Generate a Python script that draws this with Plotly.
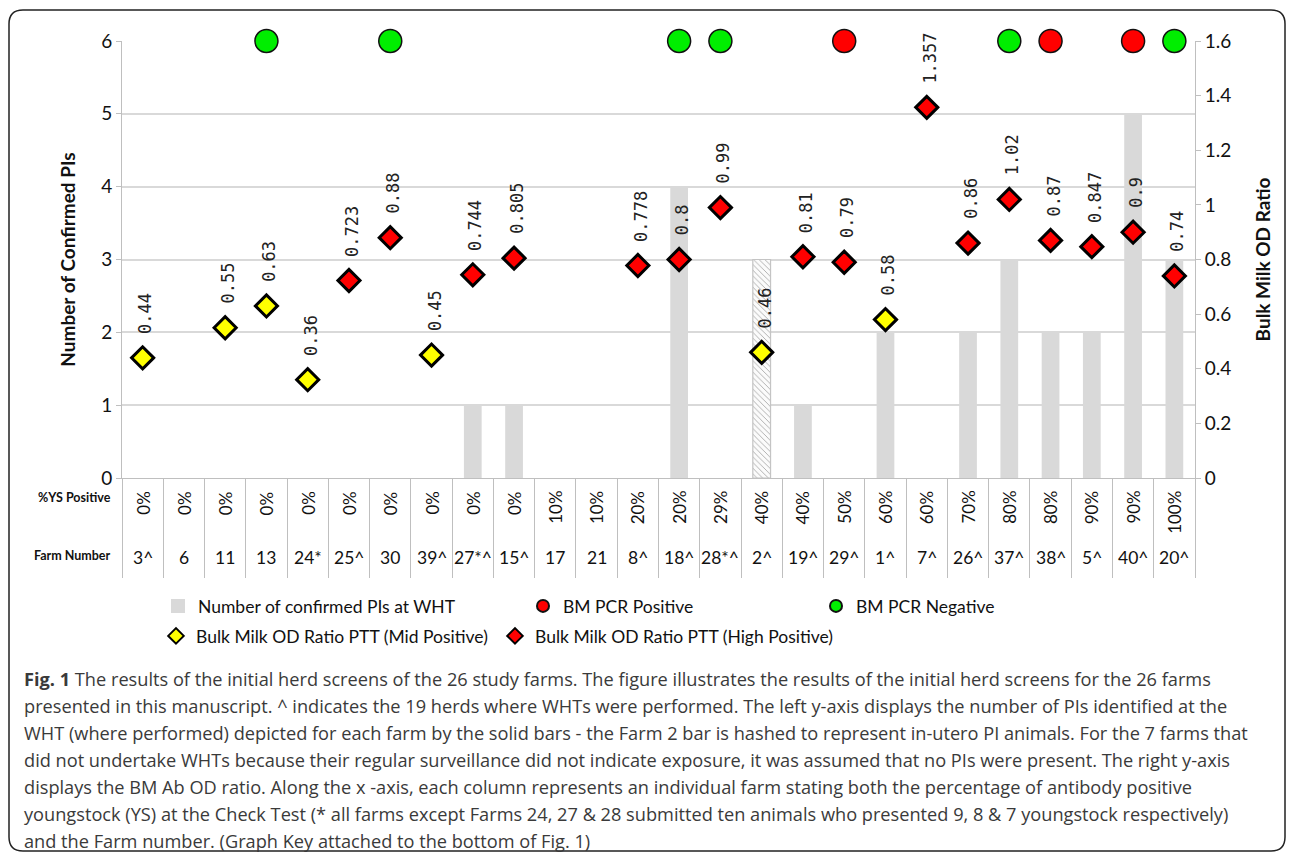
import plotly.graph_objects as go

# ---------------- data ----------------
farms = ["3^", "6", "11", "13", "24*", "25^", "30", "39^", "27*^", "15^", "17", "21", "8^",
         "18^", "28*^", "2^", "19^", "29^", "1^", "7^", "26^", "37^", "38^", "5^", "40^", "20^"]
ys_positive = ["0%", "0%", "0%", "0%", "0%", "0%", "0%", "0%", "0%", "0%", "10%", "10%", "20%",
               "20%", "29%", "40%", "40%", "50%", "60%", "60%", "70%", "80%", "80%", "90%", "90%", "100%"]
confirmed_pis = [None, None, None, None, None, None, None, None, 1, 1, None, None, None,
                 4, None, 3, 1, None, 2, None, 2, 3, 2, 2, 5, 3]
in_utero = [False] * 15 + [True] + [False] * 10
od_ratio = [0.44, None, 0.55, 0.63, 0.36, 0.723, 0.88, 0.45, 0.744, 0.805, None, None, 0.778,
            0.8, 0.99, 0.46, 0.81, 0.79, 0.58, 1.357, 0.86, 1.02, 0.87, 0.847, 0.9, 0.74]
ptt_level = ["Mid", None, "Mid", "Mid", "Mid", "High", "High", "Mid", "High", "High", None, None, "High",
             "High", "High", "Mid", "High", "High", "Mid", "High", "High", "High", "High", "High", "High", "High"]
bm_pcr = [None, None, None, "Neg", None, None, "Neg", None, None, None, None, None, None,
          "Neg", "Neg", None, None, "Pos", None, None, None, "Neg", "Pos", None, "Pos", "Neg"]
pcr_level = 1.6  # PCR results are shown along the top of the right axis

caption_lines = [
    "<b>Fig. 1</b> The results of the initial herd screens of the 26 study farms. The figure illustrates the results of the initial herd screens for the 26 farms",
    "presented in this manuscript. ^ indicates the 19 herds where WHTs were performed. The left y-axis displays the number of PIs identified at the",
    "WHT (where performed) depicted for each farm by the solid bars - the Farm 2 bar is hashed to represent in-utero PI animals. For the 7 farms that",
    "did not undertake WHTs because their regular surveillance did not indicate exposure, it was assumed that no PIs were present. The right y-axis",
    "displays the BM Ab OD ratio. Along the x -axis, each column represents an individual farm stating both the percentage of antibody positive",
    "youngstock (YS) at the Check Test (* all farms except Farms 24, 27 &amp; 28 submitted ten animals who presented 9, 8 &amp; 7 youngstock respectively)",
    "and the Farm number. (Graph Key attached to the bottom of Fig. 1)",
]

# ---------------- geometry helpers ----------------
W, H = 1292, 858
L, R, T, B = 122, 97, 41, 380
PW, PH = W - L - R, H - T - B


def px(x):
    return (x - L) / PW


def py(y):
    return (H - B - y) / PH


FONT = "Lato"
GRAY = "#d9d9d9"
LINEGRAY = "#bfbfbf"
idx = list(range(len(farms)))

fig = go.Figure()

# bars
fig.add_trace(go.Bar(
    x=farms, y=confirmed_pis, name="Number of confirmed PIs at WHT",
    width=0.43,
    marker=dict(
        color=[("#fbfbfb" if h else GRAY) for h in in_utero],
        line=dict(color=[("#c4c4c4" if h else GRAY) for h in in_utero],
                  width=[(1.2 if h else 0) for h in in_utero]),
        pattern=dict(shape=[("\\" if h else "") for h in in_utero],
                     fgcolor=["#d4d4d4" if h else GRAY for h in in_utero],
                     size=4, solidity=0.2, fillmode="overlay"),
    ),
    yaxis="y", legend="legend",
))

# PCR circles
for lvl, col, nm, lg in [("Pos", "#ff0000", "BM PCR Positive", "legend2"),
                         ("Neg", "#00ee00", "BM PCR Negative", "legend3")]:
    xs = [f for f, p in zip(farms, bm_pcr) if p == lvl]
    fig.add_trace(go.Scatter(
        x=xs, y=[pcr_level] * len(xs), mode="markers", name=nm, yaxis="y2",
        marker=dict(symbol="circle", size=23, color=col, line=dict(color="#111", width=1.5)),
        cliponaxis=False, legend=lg,
    ))

# OD diamonds
for lvl, col, nm, lg in [("Mid", "#ffff00", "Bulk Milk OD Ratio PTT (Mid Positive)", "legend4"),
                         ("High", "#ff0000", "Bulk Milk OD Ratio PTT (High Positive)", "legend5")]:
    xs = [f for f, v, p in zip(farms, od_ratio, ptt_level) if p == lvl]
    ys = [v for v, p in zip(od_ratio, ptt_level) if p == lvl]
    fig.add_trace(go.Scatter(
        x=xs, y=ys, mode="markers", name=nm, yaxis="y2",
        marker=dict(symbol="diamond", size=17, color=col, line=dict(color="#000", width=3)),
        cliponaxis=False, legend=lg,
    ))

annotations = []
# value labels
for i, v in zip(idx, od_ratio):
    if v is None:
        continue
    annotations.append(dict(
        x=i, y=v, xref="x", yref="y2", text=str(v), textangle=-90, showarrow=False,
        xanchor="center", yanchor="bottom", yshift=22, xshift=3,
        font=dict(family="DejaVu Sans Mono", size=17, color="#222"),
    ))

# table rows
for i, f, ysp in zip(idx, farms, ys_positive):
    annotations.append(dict(
        x=i, y=py(489), xref="x", yref="paper", text=ysp, textangle=-90, showarrow=False,
        xanchor="center", yanchor="top", font=dict(family=FONT, size=17, color="#111"),
    ))
    annotations.append(dict(
        x=i, y=py(557), xref="x", yref="paper", text=f, showarrow=False,
        xanchor="center", yanchor="middle", font=dict(family=FONT, size=17.5, color="#111"),
    ))
annotations.append(dict(x=px(113), y=py(497), xref="paper", yref="paper", text="<b>%YS Positive</b>",
                        showarrow=False, xanchor="right", yanchor="middle",
                        font=dict(family=FONT, size=12.5, color="#111")))
annotations.append(dict(x=px(113), y=py(555), xref="paper", yref="paper", text="<b>Farm Number</b>",
                        showarrow=False, xanchor="right", yanchor="middle",
                        font=dict(family=FONT, size=12.5, color="#111")))

# caption
for i, line in enumerate(caption_lines):
    annotations.append(dict(
        x=px(22), y=py(679 + i * 27.0), xref="paper", yref="paper", text=line, showarrow=False,
        xanchor="left", yanchor="middle", align="left",
        font=dict(family="Open Sans", size=18.2, color="#3a3a3a"),
    ))

# rounded border
x0, y0, x1, y1, r = px(9), py(10), px(1285), py(851), 14
rx, ry = r / PW, r / PH
path = (f"M {x0+rx},{y0} L {x1-rx},{y0} Q {x1},{y0} {x1},{y0-ry} "
        f"L {x1},{y1+ry} Q {x1},{y1} {x1-rx},{y1} L {x0+rx},{y1} Q {x0},{y1} {x0},{y1+ry} "
        f"L {x0},{y0-ry} Q {x0},{y0} {x0+rx},{y0} Z")
shapes = [dict(type="path", path=path, xref="paper", yref="paper", line=dict(color="#222", width=1.5))]


# legends (one per key entry, placed like the original key)
def leg(text_x, y):
    return dict(orientation="h", x=px(text_x - 40), y=py(y), xanchor="left", yanchor="middle",
                itemsizing="constant", font=dict(family=FONT, size=17.5, color="#111"),
                bgcolor="rgba(0,0,0,0)", itemclick=False, itemdoubleclick=False)


fig.update_layout(
    width=W, height=H,
    margin=dict(l=L, r=R, t=T, b=B),
    paper_bgcolor="white", plot_bgcolor="white",
    font=dict(family=FONT, size=17, color="#111"),
    xaxis=dict(type="category", categoryorder="array", categoryarray=farms, range=[-0.5, 25.5],
               showticklabels=False, showline=True, linecolor=LINEGRAY, linewidth=1,
               ticks="outside", tickson="boundaries", ticklen=99, tickcolor=LINEGRAY, tickwidth=1,
               showgrid=False, zeroline=False, fixedrange=True),
    yaxis=dict(range=[0, 6], dtick=1, showgrid=True, gridcolor=GRAY, gridwidth=1.5,
               showline=True, linecolor=LINEGRAY, ticks="outside", ticklen=5, tickcolor=LINEGRAY,
               zeroline=False, tickfont=dict(size=19, color="#111"),
               title=dict(text="<b>Number of Confirmed PIs</b>", font=dict(size=19, color="#111"), standoff=20)),
    yaxis2=dict(range=[0, 1.6], dtick=0.2, overlaying="y", side="right", showgrid=False,
                showline=True, linecolor=LINEGRAY, ticks="outside", ticklen=5, tickcolor=LINEGRAY,
                zeroline=False, tickfont=dict(size=19, color="#111"), tickformat="~g",
                title=dict(text="<b>Bulk Milk OD Ratio</b>", font=dict(size=19, color="#111"), standoff=26)),
    showlegend=True,
    legend=leg(198, 606),
    legend2=leg(563, 606),
    legend3=leg(856, 606),
    legend4=leg(196, 636),
    legend5=leg(535, 636),
    annotations=annotations,
    shapes=shapes,
)

fig.write_html("out.html", post_script="document.body.style.margin='0px';",
               config={"displayModeBar": False})
